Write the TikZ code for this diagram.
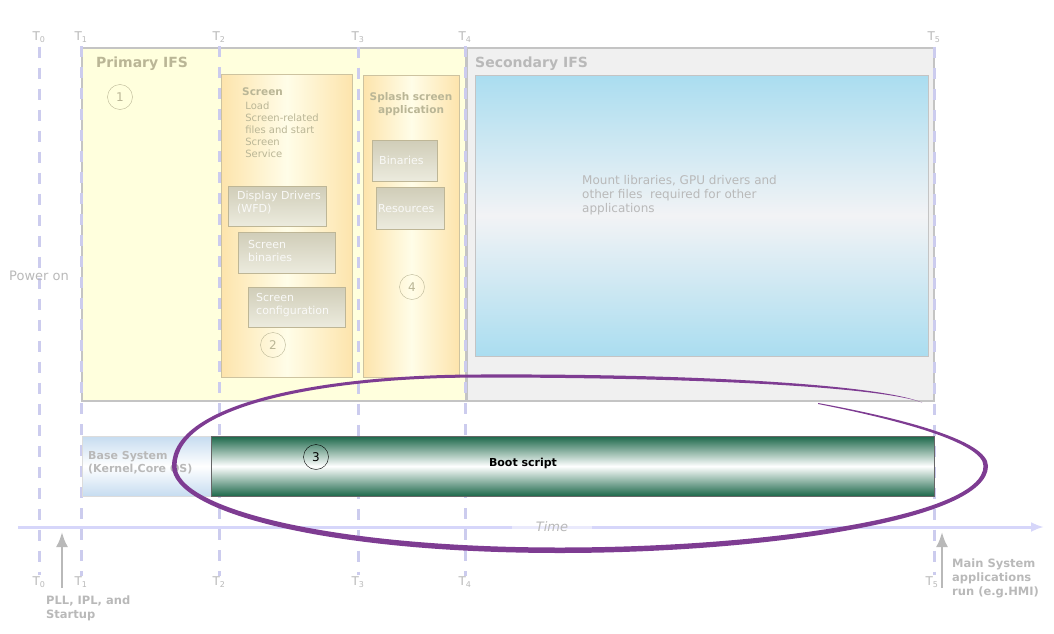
\documentclass[tikz,border=0pt]{standalone}
\usepackage{fontspec}
\setmainfont{DejaVu Sans}
\usetikzlibrary{positioning, arrows.meta, shapes}

\definecolor{dashblue}{RGB}{204,204,238}
\definecolor{axisblue}{RGB}{214,214,250}
\definecolor{tgray}{RGB}{185,185,185}
\definecolor{boxgray}{RGB}{196,196,196}
\definecolor{primfill}{RGB}{255,255,221}
\definecolor{secfill}{RGB}{240,240,240}
\definecolor{olivegray}{RGB}{186,182,150}
\definecolor{apporange}{RGB}{253,228,172}
\definecolor{applight}{RGB}{255,253,232}
\definecolor{appborder}{RGB}{205,195,160}
\definecolor{filetop}{RGB}{208,205,184}
\definecolor{filebot}{RGB}{236,235,222}
\definecolor{fileborder}{RGB}{190,182,150}
\definecolor{bluetop}{RGB}{170,221,240}
\definecolor{bluemid}{RGB}{242,243,245}
\definecolor{basetop}{RGB}{198,220,240}
\definecolor{bootgreen}{RGB}{28,104,74}
\definecolor{ringpurple}{RGB}{126,60,146}

\begin{document}
\begin{tikzpicture}[x=1pt, y=-1pt]
			\tikzstyle{tlabel}=[text=tgray, font=\fontsize{12}{12}\selectfont, inner sep=1pt]
			\tikzstyle{timeline}=[draw=dashblue, line width=3, dash pattern=on 11pt off 10pt]
			\tikzstyle{ifsbox}=[draw=boxgray, line width=1.2, anchor=north west, inner sep=0, outer sep=0]
			\tikzstyle{appbox}=[draw=appborder, left color=apporange, right color=apporange, middle color=applight, anchor=north west, inner sep=0]
			\tikzstyle{filebox}=[draw=fileborder, top color=filetop, bottom color=filebot, anchor=north west, inner sep=0]
			\tikzstyle{filetext}=[anchor=west, text=white!92!olivegray, align=left, font=\fontsize{11}{13}\selectfont, inner sep=0]
			\tikzstyle{stepnum}=[circle, draw=olivegray, text=olivegray, minimum size=25, inner sep=0, font=\fontsize{12}{12}\selectfont]
			\tikzstyle{apptext}=[text=olivegray, align=left, font=\fontsize{10}{12}\selectfont, inner sep=0]
			\tikzstyle{note}=[text=tgray, align=left, font=\bfseries\fontsize{11.5}{14}\selectfont, inner sep=0, anchor=north west]
			
			\useasboundingbox (0,0) rectangle (1054,634);
			
			% IFS boxes
			\node (pifs) at (82,48) [ifsbox, fill=primfill, minimum width=384, minimum height=353] {};
			\node (sifs) at (467,48) [ifsbox, fill=secfill, minimum width=467, minimum height=353] {};
			\node [anchor=west, text=olivegray, font=\bfseries\fontsize{14}{16}\selectfont, inner sep=0] at (96,64) {Primary IFS};
			\node [anchor=west, text=tgray, font=\bfseries\fontsize{14}{16}\selectfont, inner sep=0] at (475,64) {Secondary IFS};
			
			% time marks
			\node (tt0) at (39,37) [tlabel] {T\textsubscript{0}};
			\node (tt1) at (81,37) [tlabel] {T\textsubscript{1}};
			\node (tt2) at (219,37) [tlabel] {T\textsubscript{2}};
			\node (tt3) at (358,37) [tlabel] {T\textsubscript{3}};
			\node (tt4) at (465,37) [tlabel] {T\textsubscript{4}};
			\node (tt5) at (934,37) [tlabel] {T\textsubscript{5}};
			\node (tb0) at (39,582) [tlabel] {T\textsubscript{0}};
			\node (tb1) at (81,582) [tlabel] {T\textsubscript{1}};
			\node (tb2) at (219,582) [tlabel] {T\textsubscript{2}};
			\node (tb3) at (358,582) [tlabel] {T\textsubscript{3}};
			\node (tb4) at (465,582) [tlabel] {T\textsubscript{4}};
			\node (tb5) at (932,582) [tlabel] {T\textsubscript{5}};
			
			\draw [timeline] (tt0.south) ++(0,3) -- (tb0.north);
			\draw [timeline] (tt1.south) ++(0,3) -- (tb1.north);
			\draw [timeline] (tt2.south) ++(0,3) -- (tb2.north);
			\draw [timeline] (tt3.south) ++(0,3) -- (tb3.north);
			\draw [timeline] (tt4.south) ++(0,3) -- (tb4.north);
			\draw [timeline] (tt5.south) ++(0,3) -- (tt5.south |- tb5.north);
			
			% screen
			\node (scr) at (221,74) [appbox, minimum width=131, minimum height=303] {};
			\node [apptext, anchor=north west] at (242,88) {\textbf{\fontsize{10.5}{12}\selectfont Screen}\\[2pt]\ Load\\\ Screen-related\\\ files and start\\\ Screen\\\ Service};
			\node (wfd) at (228,186) [filebox, minimum width=98, minimum height=40] {};
			\node [filetext] at ([xshift=9, yshift=4]wfd.west) {Display Drivers\\(WFD)};
			\node (sbin) at (238,232) [filebox, minimum width=97, minimum height=41] {};
			\node [filetext] at ([xshift=10, yshift=2]sbin.west) {Screen\\binaries};
			\node (scfg) at (248,287) [filebox, minimum width=97, minimum height=40] {};
			\node [filetext] at ([xshift=8, yshift=2]scfg.west) {Screen\\configuration};
			
			% splash
			\node (spl) at (363,75) [appbox, minimum width=96, minimum height=302] {};
			\node [text=olivegray, align=center, font=\bfseries\fontsize{10.5}{12.5}\selectfont, inner sep=0] at (411,104) {Splash screen\\application};
			\node (sbn) at (372,140) [filebox, minimum width=65, minimum height=41] {};
			\node [filetext] at ([xshift=7]sbn.west) {Binaries};
			\node (srs) at (376,187) [filebox, minimum width=68, minimum height=42] {};
			\node [filetext] at ([xshift=2]srs.west) {Resources};
			
			\node (n1) at (120,97) [stepnum] {1};
			\node (n2) at (273,345) [stepnum] {2};
			\node (n4) at (412,287) [stepnum] {4};
			
			% secondary content
			\node (mnt) at (475,75) [anchor=north west, draw=boxgray, top color=bluetop, bottom color=bluetop, middle color=bluemid, minimum width=453, minimum height=281, inner sep=0] {};
			\node [anchor=north west, text=tgray, align=left, font=\fontsize{12}{14}\selectfont, inner sep=0] at (582,175) {Mount libraries, GPU drivers and\\other files\ \ required for other\\applications};
			
			% base system and boot script
			\node (base) at (82,436) [anchor=north west, draw=boxgray!60, top color=basetop, bottom color=basetop, middle color=white, minimum width=129, minimum height=60, inner sep=0] {};
			\node [note, anchor=west, font=\bfseries\fontsize{11}{13}\selectfont] at (88,463) {Base System\\(Kernel,Core OS)};
			\node (boot) at (211,436) [anchor=north west, draw=black!60, top color=bootgreen, bottom color=bootgreen, middle color=white, minimum width=723, minimum height=60, inner sep=0] {};
			\node [font=\bfseries\fontsize{11}{12}\selectfont] at (523,463) {Boot script};
			\node (n3) at (316,457) [stepnum, draw=black, text=black] {3};
			
			% time axis
			\coordinate (ax0) at (18,527);
			\coordinate (ax1) at (1044,527);
			\draw [axisblue, line width=3, -{Latex[length=13pt, width=10pt]}] (ax0) -- (ax1);
			\node (time) at (552,527) [fill=white, fill opacity=0.5, text opacity=1, text=tgray, minimum width=80, minimum height=8, inner sep=0, font=\itshape\fontsize{13}{14}\selectfont] {Time};
			
			\node (pwr) at (39,276) [text=tgray, font=\fontsize{13}{14}\selectfont] {Power on};
			
			% events
			\node (pll) at (46,596) [note] {PLL, IPL, and\\Startup};
			\node (hmi) at (952,559) [note] {Main System\\applications\\run (e.g.HMI)};
			\coordinate (pllt) at (62,532);
			\coordinate (hmit) at (942,532);
			\draw [tgray, line width=2.5, -{Latex[length=15pt, width=12pt]}] (62,588) -- (pllt);
			\draw [tgray, line width=2.5, -{Latex[length=15pt, width=12pt]}] (942,588) -- (hmit);
			
			% ring
			\fill [ringpurple] (818,403) .. controls (900,418) and (988,440) .. (988,466)
				.. controls (988,521) and (760,553) .. (560,553)
				.. controls (330,553) and (172,513) .. (172,466)
				.. controls (172,401) and (330,374.5) .. (480,374.5)
				.. controls (700,373.5) and (880,385) .. (922,402.5)
				.. controls (880,387) and (700,377.5) .. (480,377.5)
				.. controls (330,377.5) and (176.5,404) .. (176.5,466)
				.. controls (176.5,508) and (330,547.5) .. (560,547.5)
				.. controls (760,547.5) and (983.5,517) .. (983.5,466)
				.. controls (983.5,443) and (900,420) .. (818,404) -- cycle;
			\end{tikzpicture}
\end{document}
